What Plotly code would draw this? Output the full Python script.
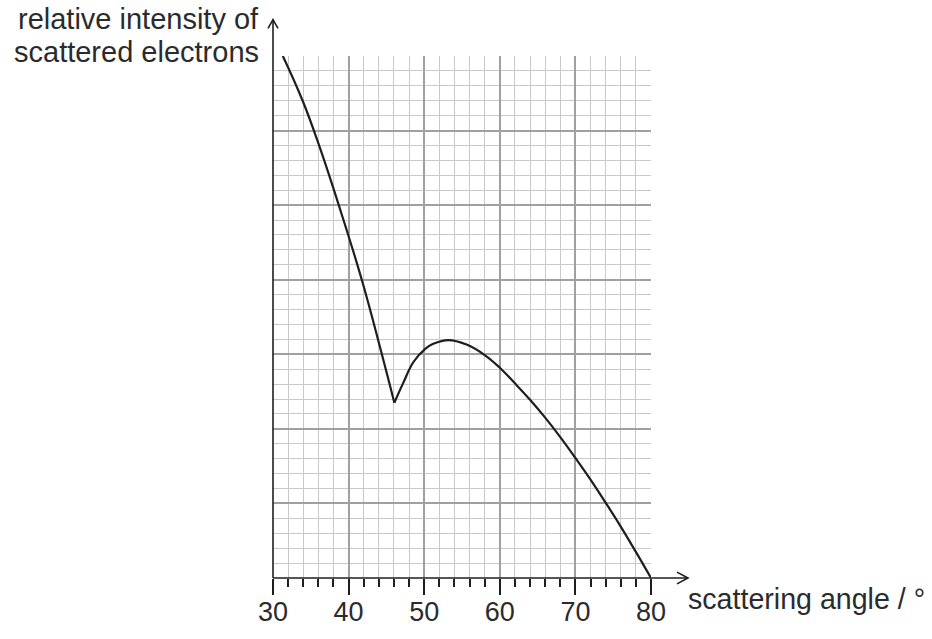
import plotly.graph_objects as go

# Falling branch (scattering angle in degrees, relative intensity)
angle_fall = [31.3, 34.0, 36.2, 38.7, 41.8, 44.4, 46.05]
intensity_fall = [7.0, 6.38, 5.77, 5.0, 3.98, 3.0, 2.35]

# Rising / second maximum branch
angle_rise = [46.05, 47.2, 48.6, 50.1, 51.2, 53.2, 55.6, 58.0, 60.0, 62.0,
              64.0, 66.0, 68.0, 70.0, 72.0, 74.0, 76.0, 78.0, 80.0]
intensity_rise = [2.35, 2.61, 2.90, 3.07, 3.14, 3.19, 3.13, 2.99, 2.82, 2.61,
                  2.39, 2.15, 1.89, 1.61, 1.32, 1.01, 0.69, 0.35, 0.0]

x_tick_vals = [30, 40, 50, 60, 70, 80]
x_tick_text = ["30", "40", "50", "60", "70", "80"]

x_title = "scattering angle / °"
y_title_lines = ["relative intensity of", "scattered electrons"]

FONT = "Liberation Sans, Arial, sans-serif"
TXT = "#2b2b2b"
LINE = "#1e1e1e"

fig = go.Figure()
for xs, ys in [(angle_fall, intensity_fall), (angle_rise, intensity_rise)]:
    fig.add_trace(go.Scatter(
        x=xs, y=ys, mode="lines",
        line=dict(color=LINE, width=2.2, shape="spline", smoothing=1.2),
        showlegend=False, hoverinfo="skip",
    ))

fig.update_layout(
    width=932, height=639, autosize=False,
    margin=dict(l=273, r=281, t=56, b=45),
    paper_bgcolor="white", plot_bgcolor="white",
    font=dict(family=FONT, color=TXT),
    showlegend=False,
)

fig.update_xaxes(
    range=[30, 80],
    tickmode="array", tickvals=x_tick_vals, ticktext=x_tick_text,
    showgrid=True, gridcolor="#a0a0a0", gridwidth=2,
    ticks="outside", ticklen=16, tickwidth=1.5, tickcolor=LINE,
    tickfont=dict(size=27, color=TXT, family=FONT),
    ticklabelstandoff=-6,
    showline=False, zeroline=False,
    minor=dict(dtick=2, tick0=30, showgrid=True, gridcolor="#c9c9c9", gridwidth=1.3,
               ticks="outside", ticklen=8, tickwidth=1.5, tickcolor=LINE),
)
fig.update_yaxes(
    range=[0, 7], dtick=1, tick0=0,
    showgrid=True, gridcolor="#a0a0a0", gridwidth=2,
    showticklabels=False, ticks="",
    showline=False, zeroline=False,
    minor=dict(dtick=0.2, tick0=0, showgrid=True, gridcolor="#c9c9c9", gridwidth=1.3),
)

# axis lines with open arrowheads (paper coordinates)
ax_style = dict(color=LINE, width=1.6)
fig.add_shape(type="line", xref="paper", yref="paper", x0=0, y0=0, x1=0, y1=1.0698, line=ax_style)
fig.add_shape(type="line", xref="paper", yref="paper", x0=0, y0=0, x1=1.0979, y1=0, line=ax_style)
fig.add_shape(type="path", xref="paper", yref="paper",
              path="M -0.0132,1.0528 L 0,1.0698 L 0.0132,1.0528", line=ax_style)
fig.add_shape(type="path", xref="paper", yref="paper",
              path="M 1.0688,0.0113 L 1.0979,0 L 1.0688,-0.0113", line=ax_style)

fig.add_annotation(text=x_title, xref="paper", yref="paper", x=1.0952, y=-0.0396,
                   xanchor="left", yanchor="middle", showarrow=False, borderpad=0,
                   font=dict(size=28.6, color=TXT, family=FONT))
fig.add_annotation(text=y_title_lines[0], xref="paper", yref="paper", x=-0.034, y=1.0708,
                   xanchor="right", yanchor="middle", showarrow=False, borderpad=0,
                   font=dict(size=29, color=TXT, family=FONT))
fig.add_annotation(text=y_title_lines[1], xref="paper", yref="paper", x=-0.034, y=1.0075,
                   xanchor="right", yanchor="middle", showarrow=False, borderpad=0,
                   font=dict(size=29, color=TXT, family=FONT))

fig.write_html("out.html",
               config={"responsive": False, "displayModeBar": False},
               post_script="document.body.style.margin='0';")
